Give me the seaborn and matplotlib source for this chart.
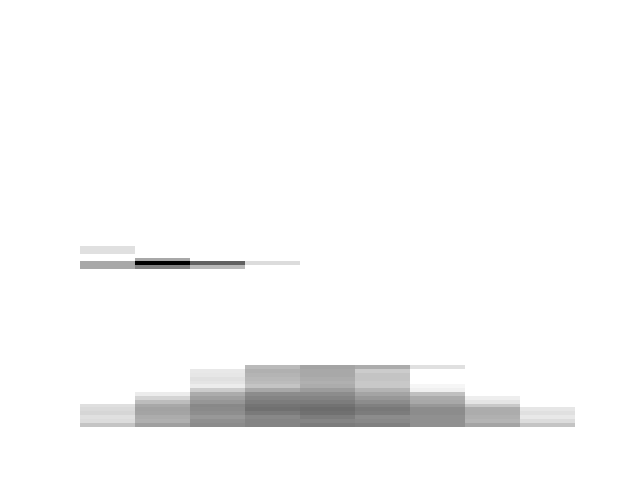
import numpy as np
import pandas as pd
import matplotlib
matplotlib.use("Agg")
import matplotlib.pyplot as plt
import seaborn as sns

# Column (x bin) indices
columns = list(range(9))

# Cell shade (0 = black, 255 = white), per column,
# listed from the bottom row upward; None = empty cell
col_shades = [
    [0xc4, 0xdc, 0xe0, 0xd6, 0xda, 0xdf],
    [0xa0, 0xb0, 0xac, 0xa4, 0xa2, 0xa8, 0xbc, 0xd4, 0xec],
    [0x8c, 0x90, 0x98, 0x8e, 0x8a, 0x88, 0x96, 0xa0, 0xac, 0xcc, 0xec, 0xe4, 0xe0, 0xe6, 0xe8],
    [0x84, 0x84, 0x88, 0x7a, 0x70, 0x74, 0x7c, 0x84, 0x8c, 0xa8, 0xc4, 0xbc, 0xb8, 0xb4, 0xb0, 0xba],
    [0x7c, 0x84, 0x7c, 0x70, 0x6c, 0x72, 0x7c, 0x84, 0x8c, 0x9c, 0xac, 0xb0, 0xac, 0xa8, 0xa8, 0xa4],
    [0x80, 0x88, 0x8c, 0x7c, 0x78, 0x80, 0x8c, 0x98, 0xa4, 0xb4, 0xc8, 0xc8, 0xc4, 0xc4, 0xcc, 0xac],
    [0x90, 0x90, 0x90, 0x8c, 0x8c, 0x98, 0xa8, 0xac, 0xc0, 0xf0, 0xf6, None, None, None, None, 0xe0],
    [0xa4, 0xb4, 0xb0, 0xac, 0xac, 0xc8, 0xe4, 0xee],
    [0xc4, 0xdc, 0xe8, 0xe0, 0xe6],
]

# Isolated cells high above the main block
outlier_col = [0, 0, 0, 0, 1, 1, 1, 2, 2, 3]
outlier_row = [41, 42, 45, 46, 41, 42, 43, 41, 42, 42]
outlier_shade = [0xa8, 0xa8, 0xe0, 0xe0, 0x80, 0x00, 0xa8, 0xb8, 0x60, 0xdc]

xs, ys, ws = [], [], []
for c, shades in zip(columns, col_shades):
    for r, s in enumerate(shades):
        if s is None:
            continue
        xs.append(c)
        ys.append(r)
        ws.append(255 - s)
for c, r, s in zip(outlier_col, outlier_row, outlier_shade):
    xs.append(c)
    ys.append(r)
    ws.append(255 - s)

df = pd.DataFrame({"x": xs, "y": ys, "w": ws})

fig, ax = plt.subplots(figsize=(6.4, 4.8), dpi=100)
sns.histplot(data=df, x="x", y="y", weights="w", discrete=True,
             cmap="gray_r", vmin=0, vmax=255, ax=ax)
ax.set_xlim(-0.5, 8.52)
ax.set_ylim(-0.656, 95.59)
ax.set_axis_off()
fig.savefig("out.png", dpi=100)
